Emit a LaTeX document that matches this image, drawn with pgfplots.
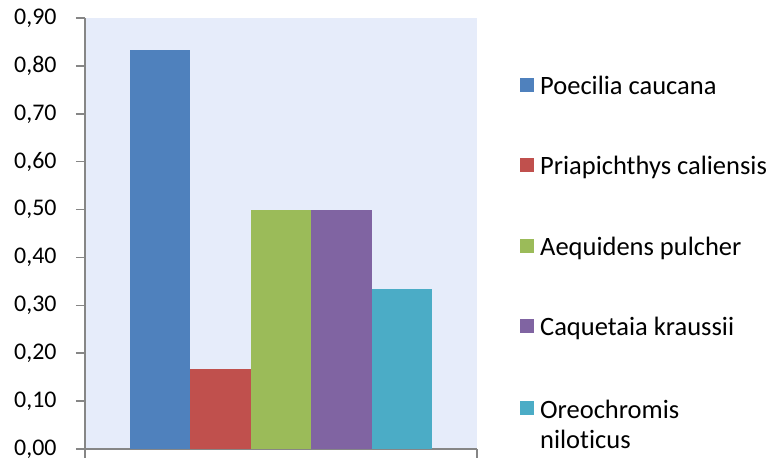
\documentclass[border=0pt]{standalone}
\usepackage{pgfplots}
\pgfplotsset{compat=1.18}
\usepackage{fontspec}
\setmainfont{Carlito}[Ligatures=NoCommon]

\definecolor{bgblue}{RGB}{230,236,250}
\definecolor{axisgray}{RGB}{134,134,134}
\definecolor{sBlue}{RGB}{79,129,189}
\definecolor{sRed}{RGB}{192,80,77}
\definecolor{sGreen}{RGB}{155,187,89}
\definecolor{sPurple}{RGB}{128,100,162}
\definecolor{sTeal}{RGB}{75,172,198}

\begin{document}
\begin{tikzpicture}
\path[use as bounding box] (-85bp,-15bp) rectangle (685bp,449bp);
\begin{axis}[
  scale only axis,
  width=392bp, height=431bp,
  xmin=-0.5, xmax=0.5,
  ymin=0, ymax=0.9,
  axis lines*=left,
  axis background/.style={fill=bgblue},
  axis line style={axisgray, line width=1.5bp},
  tick style={axisgray, line width=1.5bp},
  major tick length=9bp,
  tick align=outside,
  xtick={-0.5,0.5},
  xticklabels={,},
  ytick={0,0.1,0.2,0.3,0.4,0.5,0.6,0.7,0.8,0.9},
  yticklabel style={
    /pgf/number format/fixed,
    /pgf/number format/fixed zerofill,
    /pgf/number format/precision=2,
    /pgf/number format/use comma,
    /pgf/number format/assume math mode=true,
    xshift=-16bp,
  },
  tick label style={font=\fontsize{24}{28}\selectfont},
  ybar,
  bar width=0.154,
  legend cell align=left,
  legend style={
    draw=none, fill=none,
    at={(axis description cs:1.102,0.875)}, anchor=north west,
    font=\fontsize{26.6}{30}\selectfont,
    row sep=56.5bp,
    nodes={inner xsep=6bp},
  },
  legend image code/.code={\fill[#1] (0bp,-6bp) rectangle (14bp,8bp);},
]
\addplot[fill=sBlue, draw=none, bar shift=-0.308] coordinates {(0,0.8333)};
\addlegendentry{Poecilia caucana}
\addplot[fill=sRed, draw=none, bar shift=-0.154] coordinates {(0,0.1667)};
\addlegendentry{Priapichthys caliensis}
\addplot[fill=sGreen, draw=none, bar shift=0] coordinates {(0,0.5)};
\addlegendentry{Aequidens pulcher}
\addplot[fill=sPurple, draw=none, bar shift=0.154] coordinates {(0,0.5)};
\addlegendentry{Caquetaia kraussii}
\addplot[fill=sTeal, draw=none, bar shift=0.308] coordinates {(0,0.3333)};
\addlegendentry{\begin{tabular}[t]{@{}l@{}}Oreochromis\\niloticus\end{tabular}}
\end{axis}
\end{tikzpicture}
\end{document}
